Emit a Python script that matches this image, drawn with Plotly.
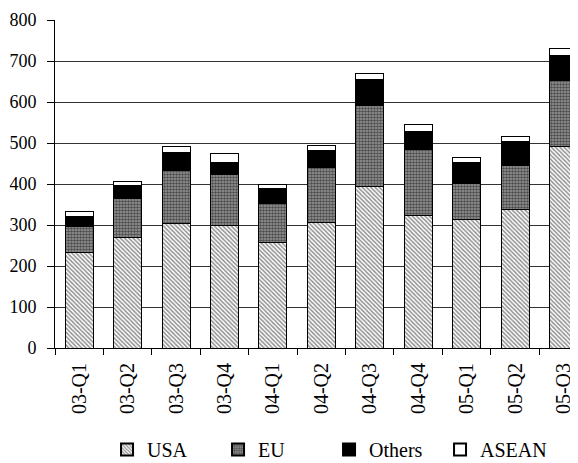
import plotly.graph_objects as go

# ── Data ──────────────────────────────────────────────────────────────────────
quarters = ["03-Q1", "03-Q2", "03-Q3", "03-Q4", "04-Q1", "04-Q2",
            "04-Q3", "04-Q4", "05-Q1", "05-Q2", "05-Q3"]
usa    = [232, 269, 303, 298, 257, 307, 393, 324, 314, 337, 491]
eu     = [64, 96, 130, 124, 95, 133, 199, 160, 87, 108, 162]
others = [24, 32, 44, 30, 37, 42, 63, 45, 52, 58, 61]
asean  = [12, 10, 15, 23, 10, 13, 14, 16, 11, 12, 16]
y_ticks = [0, 100, 200, 300, 400, 500, 600, 700, 800]

FONT = "Liberation Serif, Times New Roman, serif"
LINE = dict(color="black", width=1)

fig = go.Figure()
fig.add_trace(go.Bar(
    x=quarters, y=usa, name="USA",
    marker=dict(color="white", line=LINE,
                pattern=dict(shape="\\", size=3, solidity=0.5,
                             fgcolor="#222222", bgcolor="white")),
))
fig.add_trace(go.Bar(
    x=quarters, y=eu, name="EU",
    marker=dict(color="white", line=LINE,
                pattern=dict(shape=".", size=3, solidity=0.55,
                             fgcolor="black", bgcolor="#9a9a9a")),
))
fig.add_trace(go.Bar(
    x=quarters, y=others, name="Others",
    marker=dict(color="black", line=LINE),
))
fig.add_trace(go.Bar(
    x=quarters, y=asean, name="ASEAN",
    marker=dict(color="white", line=LINE),
))

# page body adds an 8px offset, so the figure is sized to the visible area
fig.update_layout(
    width=570, height=455,
    barmode="stack", bargap=0.42,
    paper_bgcolor="white", plot_bgcolor="white",
    font=dict(family=FONT, color="black", size=18),
    margin=dict(l=47, r=0, t=12, b=115, autoexpand=False),
    legend=dict(orientation="h", x=0.0995, xanchor="left", y=-0.25, yanchor="top",
                font=dict(size=20), traceorder="normal", entrywidth=66,
                entrywidthmode="pixels", itemwidth=30, itemsizing="constant"),
    xaxis=dict(range=[-0.5, 10.3], showline=True, linecolor="black", linewidth=1,
               ticks="outside", ticklen=6, tickcolor="black", automargin=False,
               tickson="boundaries", tickangle=-90, showgrid=False,
               tickfont=dict(size=20), ticklabelstandoff=6),
    yaxis=dict(range=[0, 800], tickvals=y_ticks, showline=True, linecolor="black",
               linewidth=1, ticks="outside", ticklen=7, tickcolor="black",
               gridcolor="#333333", gridwidth=1, zeroline=False, automargin=False,
               ticklabelstandoff=7),
)

fig.write_html("out.html")
